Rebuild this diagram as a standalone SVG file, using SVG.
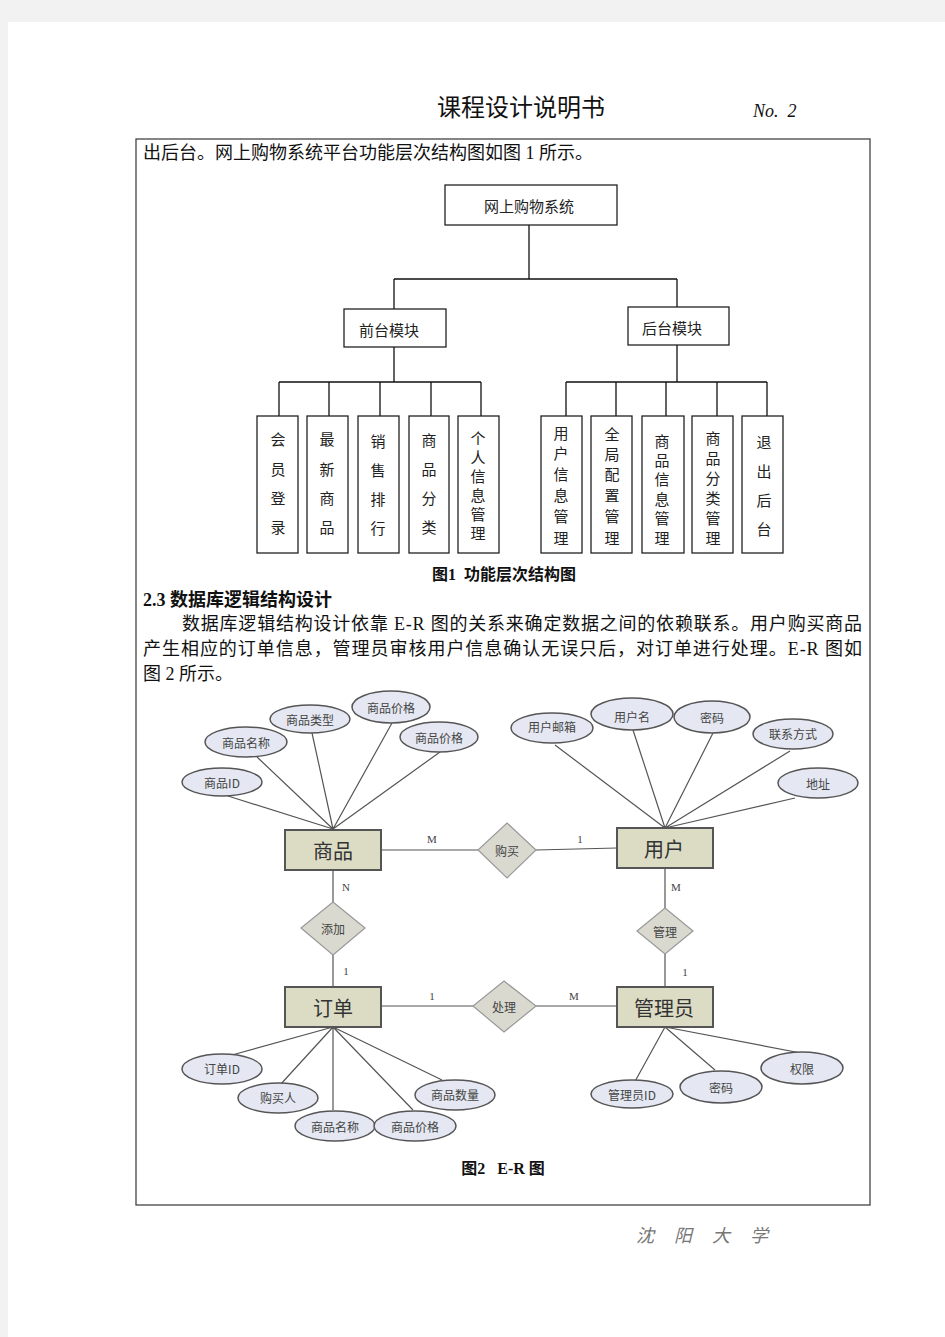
<svg xmlns="http://www.w3.org/2000/svg" width="945" height="1337" viewBox="0 0 945 1337">
<style>
.body{font-family:"Liberation Serif","Noto Sans CJK SC",serif;font-size:18px;fill:#111}
.box{fill:#fff;stroke:#222;stroke-width:1.3}
.tl{stroke:#111;stroke-width:1.3;fill:none}
.lt{font-family:"Noto Sans CJK SC",sans-serif;font-size:15px;fill:#222;text-anchor:middle;dominant-baseline:central}
.ent{fill:#dcdcc5;stroke:#555;stroke-width:2}
.entt{font-family:"Noto Sans CJK SC",serif;font-size:20px;fill:#333;text-anchor:middle;dominant-baseline:central}
.rel{fill:#d9d9cf;stroke:#999;stroke-width:1.2}
.relt{font-family:"Noto Sans CJK SC",serif;font-size:12px;fill:#444;text-anchor:middle;dominant-baseline:central}
.att{fill:#e5e8f2;stroke:#555;stroke-width:1.5}
.attt{font-family:"Noto Sans CJK SC",serif;font-size:12px;fill:#444;text-anchor:middle;dominant-baseline:central}
.el{stroke:#555;stroke-width:1.2;fill:none}
.card{font-family:"Liberation Serif",serif;font-size:11px;fill:#444;text-anchor:middle}
.cap{font-family:"Liberation Serif","Noto Sans CJK SC",serif;font-size:16px;font-weight:bold;fill:#111}
</style>
<rect x="0" y="0" width="945" height="1337" fill="#f2f2f2"/>
<rect x="8" y="22" width="937" height="1315" fill="#fff"/>
<text x="521" y="116" font-family="Noto Sans CJK SC,sans-serif" font-size="24" fill="#111" text-anchor="middle">课程设计说明书</text>
<text x="753" y="117" font-family="Liberation Serif,serif" font-size="18" font-style="italic" fill="#111" xml:space="preserve">No.  2</text>
<rect x="136" y="139" width="734" height="1066" fill="none" stroke="#444" stroke-width="1.3"/>
<text class="body" x="143" y="159">出后台。网上购物系统平台功能层次结构图如图 1 所示。</text>

<g id="tree-connectors">
<path class="tl" d="M529 225V279M394 279H677M394 279V309M677 279V307M394 347V382M677 345V382M279 382H481M566 382H767M279 382V416M329 382V416M380 382V416M431 382V416M481 382V416M566 382V416M616 382V416M666 382V416M717 382V416M767 382V416"/>
</g>
<g id="root"><rect class="box" x="445" y="185" width="172" height="40"/><text class="lt" x="529" y="205" font-size="16">网上购物系统</text></g>
<g id="front"><rect class="box" x="344" y="309" width="102" height="38"/><text class="lt" x="389" y="329" font-size="16">前台模块</text></g>
<g id="back"><rect class="box" x="628" y="307" width="101" height="38"/><text class="lt" x="672" y="327" font-size="16">后台模块</text></g>
<g id="leaf1"><rect class="box" x="257" y="416" width="41" height="137"/><text class="lt" x="278"><tspan x="278" y="438">会</tspan><tspan x="278" y="468">员</tspan><tspan x="278" y="497">登</tspan><tspan x="278" y="526">录</tspan></text></g>
<g id="leaf2"><rect class="box" x="307" y="416" width="41" height="137"/><text class="lt"><tspan x="327" y="438">最</tspan><tspan x="327" y="468">新</tspan><tspan x="327" y="497">商</tspan><tspan x="327" y="526">品</tspan></text></g>
<g id="leaf3"><rect class="box" x="358" y="416" width="41" height="137"/><text class="lt"><tspan x="378" y="440">销</tspan><tspan x="378" y="469">售</tspan><tspan x="378" y="498">排</tspan><tspan x="378" y="527">行</tspan></text></g>
<g id="leaf4"><rect class="box" x="409" y="416" width="40" height="137"/><text class="lt"><tspan x="429" y="439">商</tspan><tspan x="429" y="468">品</tspan><tspan x="429" y="497">分</tspan><tspan x="429" y="526">类</tspan></text></g>
<g id="leaf5"><rect class="box" x="458" y="416" width="41" height="137"/><text class="lt" font-size="14"><tspan x="478" y="437">个</tspan><tspan x="478" y="456">人</tspan><tspan x="478" y="475">信</tspan><tspan x="478" y="494">息</tspan><tspan x="478" y="513">管</tspan><tspan x="478" y="532">理</tspan></text></g>
<g id="leaf6"><rect class="box" x="541" y="416" width="41" height="137"/><text class="lt"><tspan x="561" y="432">用</tspan><tspan x="561" y="452">户</tspan><tspan x="561" y="473">信</tspan><tspan x="561" y="494">息</tspan><tspan x="561" y="515">管</tspan><tspan x="561" y="537">理</tspan></text></g>
<g id="leaf7"><rect class="box" x="591" y="416" width="41" height="137"/><text class="lt"><tspan x="612" y="433">全</tspan><tspan x="612" y="453">局</tspan><tspan x="612" y="473">配</tspan><tspan x="612" y="494">置</tspan><tspan x="612" y="515">管</tspan><tspan x="612" y="537">理</tspan></text></g>
<g id="leaf8"><rect class="box" x="642" y="416" width="42" height="137"/><text class="lt"><tspan x="662" y="440">商</tspan><tspan x="662" y="459">品</tspan><tspan x="662" y="478">信</tspan><tspan x="662" y="498">息</tspan><tspan x="662" y="517">管</tspan><tspan x="662" y="537">理</tspan></text></g>
<g id="leaf9"><rect class="box" x="692" y="416" width="41" height="137"/><text class="lt"><tspan x="713" y="437">商</tspan><tspan x="713" y="457">品</tspan><tspan x="713" y="477">分</tspan><tspan x="713" y="497">类</tspan><tspan x="713" y="517">管</tspan><tspan x="713" y="537">理</tspan></text></g>
<g id="leaf10"><rect class="box" x="742" y="416" width="41" height="137"/><text class="lt"><tspan x="764" y="441">退</tspan><tspan x="764" y="470">出</tspan><tspan x="764" y="499">后</tspan><tspan x="764" y="528">台</tspan></text></g>
<text class="cap" x="504" y="580" text-anchor="middle" xml:space="preserve">图1  功能层次结构图</text>

<text class="body" x="143" y="606" font-weight="bold" font-size="17">2.3 数据库逻辑结构设计</text>
<text class="body" x="182" y="630" textLength="680" lengthAdjust="spacing">数据库逻辑结构设计依靠 E-R 图的关系来确定数据之间的依赖联系。用户购买商品</text>
<text class="body" x="143" y="655" textLength="719" lengthAdjust="spacing">产生相应的订单信息，管理员审核用户信息确认无误只后，对订单进行处理。E-R 图如</text>
<text class="body" x="143" y="680">图 2 所示。</text>

<g id="er-connectors">
<path class="el" d="M333 829L228 796M333 829L257 757M333 829L312 733M333 829L392 723M333 829L440 752"/>
<path class="el" d="M665 828L555 745M665 828L633 730M665 828L713 733M665 828L790 751M665 828L795 798"/>
<path class="el" d="M333 1027L232 1055M333 1027L280 1085M333 1027L333 1110M333 1027L413 1110M333 1027L442 1080"/>
<path class="el" d="M665 1027L633 1085M665 1027L715 1070M665 1027L806 1054"/>
<path class="el" d="M381 850H478M536 850L617 848M333 870V902M333 955V987M665 868V908M665 954V987M381 1006H473M536 1006H617"/>
</g>
<g id="cards">
<text class="card" x="432" y="843">M</text>
<text class="card" x="580" y="843">1</text>
<text class="card" x="346" y="891">N</text>
<text class="card" x="346" y="975">1</text>
<text class="card" x="676" y="891">M</text>
<text class="card" x="685" y="976">1</text>
<text class="card" x="432" y="1000">1</text>
<text class="card" x="574" y="1000">M</text>
</g>
<g id="e-goods"><rect class="ent" x="285" y="830" width="96" height="40"/><text class="entt" x="333" y="850">商品</text></g>
<g id="e-user"><rect class="ent" x="617" y="828" width="96" height="40"/><text class="entt" x="664" y="848">用户</text></g>
<g id="e-order"><rect class="ent" x="285" y="987" width="96" height="40"/><text class="entt" x="333" y="1007">订单</text></g>
<g id="e-admin"><rect class="ent" x="617" y="987" width="96" height="40"/><text class="entt" x="664" y="1007">管理员</text></g>
<g id="r-buy"><path class="rel" d="M507 823L536 850L507 878L478 850Z"/><text class="relt" x="507" y="850">购买</text></g>
<g id="r-add"><path class="rel" d="M333 902L365 928L333 955L301 928Z"/><text class="relt" x="333" y="928">添加</text></g>
<g id="r-manage"><path class="rel" d="M665 908L693 931L665 954L637 931Z"/><text class="relt" x="665" y="931">管理</text></g>
<g id="r-process"><path class="rel" d="M504 981L536 1006L504 1032L473 1006Z"/><text class="relt" x="504" y="1006">处理</text></g>

<g id="a-gid"><ellipse class="att" cx="222" cy="782" rx="40" ry="14"/><text class="attt" x="222" y="782">商品ID</text></g>
<g id="a-gname"><ellipse class="att" cx="246" cy="742" rx="41" ry="15"/><text class="attt" x="246" y="742">商品名称</text></g>
<g id="a-gtype"><ellipse class="att" cx="310" cy="719" rx="40" ry="14"/><text class="attt" x="310" y="719">商品类型</text></g>
<g id="a-gprice1"><ellipse class="att" cx="391" cy="707" rx="39" ry="16"/><text class="attt" x="391" y="707">商品价格</text></g>
<g id="a-gprice2"><ellipse class="att" cx="439" cy="737" rx="39" ry="15"/><text class="attt" x="439" y="737">商品价格</text></g>
<g id="a-email"><ellipse class="att" cx="552" cy="728" rx="41" ry="15"/><text class="attt" x="552" y="726">用户邮箱</text></g>
<g id="a-uname"><ellipse class="att" cx="632" cy="714" rx="41" ry="16"/><text class="attt" x="632" y="716">用户名</text></g>
<g id="a-upwd"><ellipse class="att" cx="712" cy="717" rx="38" ry="16"/><text class="attt" x="712" y="717">密码</text></g>
<g id="a-contact"><ellipse class="att" cx="793" cy="734" rx="40" ry="15"/><text class="attt" x="793" y="733">联系方式</text></g>
<g id="a-addr"><ellipse class="att" cx="818" cy="783" rx="40" ry="15"/><text class="attt" x="818" y="783">地址</text></g>
<g id="a-oid"><ellipse class="att" cx="222" cy="1069" rx="40" ry="15"/><text class="attt" x="222" y="1068">订单ID</text></g>
<g id="a-buyer"><ellipse class="att" cx="278" cy="1098" rx="40" ry="15"/><text class="attt" x="278" y="1097">购买人</text></g>
<g id="a-oname"><ellipse class="att" cx="335" cy="1126" rx="40" ry="15"/><text class="attt" x="335" y="1126">商品名称</text></g>
<g id="a-oprice"><ellipse class="att" cx="415" cy="1126" rx="41" ry="15"/><text class="attt" x="415" y="1126">商品价格</text></g>
<g id="a-oqty"><ellipse class="att" cx="455" cy="1095" rx="40" ry="15"/><text class="attt" x="455" y="1094">商品数量</text></g>
<g id="a-aid"><ellipse class="att" cx="632" cy="1094" rx="41" ry="14"/><text class="attt" x="632" y="1094">管理员ID</text></g>
<g id="a-apwd"><ellipse class="att" cx="721" cy="1087" rx="41" ry="16"/><text class="attt" x="721" y="1087">密码</text></g>
<g id="a-right"><ellipse class="att" cx="802" cy="1068" rx="41" ry="16"/><text class="attt" x="802" y="1068">权限</text></g>

<text class="cap" x="503" y="1174" text-anchor="middle" xml:space="preserve">图2   E-R 图</text>
<text x="636" y="1242" font-family="Liberation Serif,Noto Sans CJK SC,serif" font-size="18" font-style="italic" fill="#777" letter-spacing="20">沈阳大学</text>
</svg>
